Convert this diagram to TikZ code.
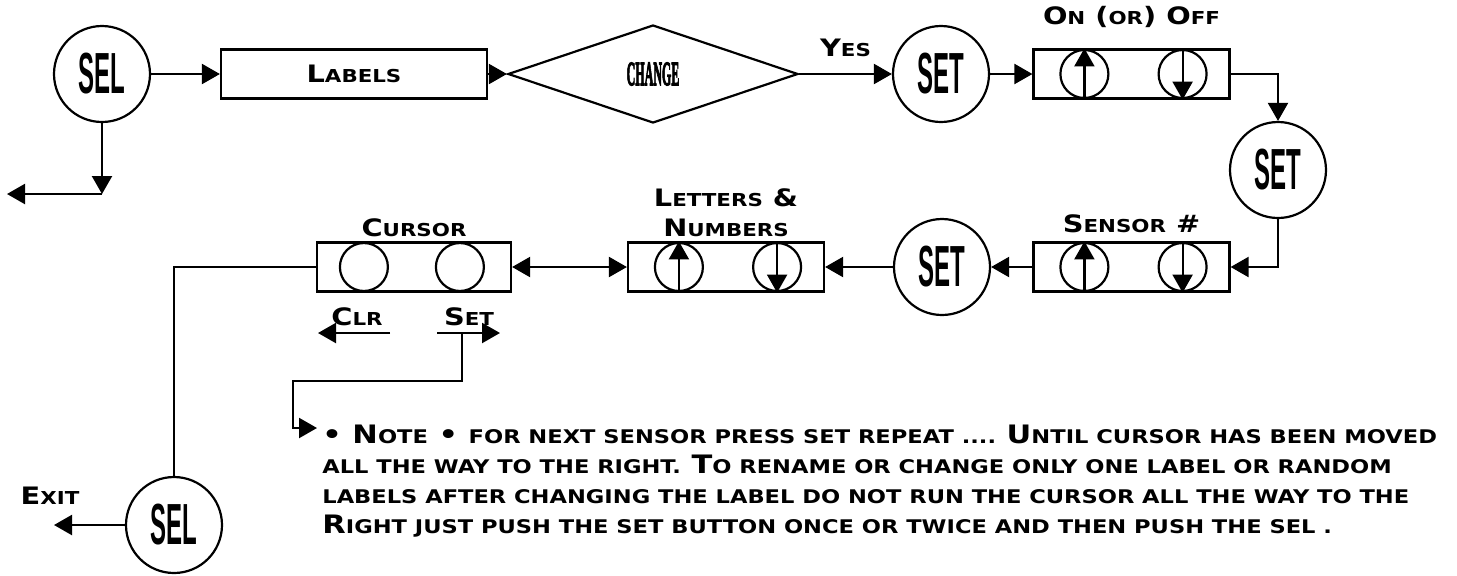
\documentclass[tikz,border=0pt]{standalone}
\usepackage{fontspec}
\usepackage{graphicx}
\setmainfont{DejaVu Sans}
\newfontfamily\copfont{DejaVu Sans}[FakeStretch=1.2]
\newfontfamily\btnfont{Liberation Sans}
\newfontfamily\chgfont{Liberation Serif}[FakeBold=4]
\usetikzlibrary{shapes.geometric, arrows.meta, positioning, calc}
\newcommand{\lcsz}{8.9}
\newcommand{\lc}[1]{{\fontsize{\lcsz}{15}\selectfont\MakeUppercase{#1}}}
\newcommand{\btn}[1]{\scalebox{1.2}[2.9]{\btnfont\bfseries #1}}
\frenchspacing
\tikzset{
	btncirc/.style={circle, draw=black, line width=1.1pt, minimum size=48pt, inner sep=0pt},
	panel/.style  ={rectangle, draw=black, line width=1.1pt, minimum width=98pt, minimum height=24.5pt, inner sep=0pt},
	lbl/.style    ={font=\copfont\bfseries\fontsize{12}{15}\selectfont, inner sep=1pt, align=center},
	notetxt/.style={font=\copfont\bfseries\fontsize{12.7}{15}\selectfont\def\lcsz{9.4}, inner sep=1pt, align=left},
	sig/.style    ={-{Triangle[length=9pt, width=10pt]}, line width=1.1pt},
	sigboth/.style={{Triangle[length=9pt, width=10pt]}-{Triangle[length=9pt, width=10pt]}, line width=1.1pt},
	plain/.style  ={line width=1.1pt},
}

\begin{document}
\begin{tikzpicture}[x=0.5pt, y=-0.5pt]
	\useasboundingbox (0,0) rectangle (1457,575);
	% top row
	\node[btncirc] (sel1) at (102,74) {\btn{SEL}};
	\node[panel, lbl, minimum width=133pt] (labels) at (354,74) {L\lc{abels}};
	\node[diamond, draw=black, line width=1.1pt, minimum width=145pt, minimum height=49pt, inner sep=0pt] (change) at (653,74) {\scalebox{0.6}[1.7]{\chgfont\bfseries CHANGE}};
	\node[btncirc] (set1) at (941,74) {\btn{SET}};
	\node[panel] (onoff) at (1131.5,74) {};
	\node[lbl, above=9pt of onoff] (onofflbl) {O\lc{n} (\lc{or}) O\lc{ff}};
	\node[btncirc] (set2) at (1278,170) {\btn{SET}};
	% middle row
	\node[panel] (sensor) at (1131.5,267) {};
	\node[lbl, above=3pt of sensor] (sensorlbl) {S\lc{ensor} \#};
	\node[btncirc] (set3) at (942,267) {\btn{SET}};
	\node[panel] (letters) at (726,267) {};
	\node[lbl, above=1pt of letters] (letterslbl) {L\lc{etters} \&\\N\lc{umbers}};
	\node[panel, minimum width=97pt] (cursor) at (414,267) {};
	\node[lbl, above=1pt of cursor] (cursorlbl) {C\lc{ursor}};
	\node[lbl] (clr) at (357,317) {C\lc{lr}};
	\node[lbl] (setlbl) at (469,317) {S\lc{et}};
	% bottom
	\node[btncirc] (sel2) at (174,525) {\btn{SEL}};
	\node[lbl] (exit) at (50,496) {E\lc{xit}};
	\node[notetxt, anchor=north west] (note) at (320,423) {%
		\textbullet\ N\lc{ote} \textbullet\ \lc{for next sensor press set repeat ....} U\lc{ntil cursor has been moved}\\
		\lc{all the way to the right.} T\lc{o rename or change only one label or random}\\
		\lc{labels after changing the label do not run the cursor all the way to the}\\
		R\lc{ight just push the set button once or twice and then push the sel .}};
	% free ends
	\coordinate (selcorner) at (102,194);
	\coordinate (selout) at (7,194);
	\coordinate (exitpt) at (54,525);
	\coordinate (clrR) at (390,333);
	\coordinate (clrL) at (318,333);
	\coordinate (setL) at (437,333);
	\coordinate (setR) at (500,333);
	\coordinate (setmid) at (462,333);
	\coordinate (notebend) at (293,381);
	\coordinate (noteIn) at (317,428);
	% up and down keys
	\foreach \p in {onoff,sensor,letters} {
		\draw[plain] ($(\p.west)+(26pt,0)$) circle (12pt);
		\draw[plain] ($(\p.east)+(-24pt,0)$) circle (12pt);
		\draw[sig] ($(\p.south west)+(26pt,0)$) -- ($(\p.north west)+(26pt,0)$);
		\draw[sig] ($(\p.north east)+(-24pt,0)$) -- ($(\p.south east)+(-24pt,0)$);
	}
	\foreach \dx in {24pt,72pt} \draw[plain] ($(cursor.west)+(\dx,0)$) circle (12pt);
	% connectors
	\draw[sig] (sel1) -- (labels);
	\draw[sig] (sel1) -- (selcorner);
	\draw[sig] (selcorner) -- (selout);
	\draw[sig] (labels) -- (change);
	\draw[sig] (change) -- node[lbl, above=7pt] (yes) {Y\lc{es}} (set1);
	\draw[sig] (set1) -- (onoff);
	\draw[sig] (onoff.east) -| (set2.north);
	\draw[sig] (set2.south) |- (sensor.east);
	\draw[sig] (sensor) -- (set3);
	\draw[sig] (set3) -- (letters);
	\draw[sigboth] (cursor) -- (letters);
	\draw[plain] (cursor.west) -| (sel2.north);
	\draw[sig] (sel2) -- (exitpt);
	\draw[sig] (clrR) -- (clrL);
	\draw[sig] (setL) -- (setR);
	\draw[sig] (setmid) |- (notebend) |- (noteIn);
\end{tikzpicture}
\end{document}
